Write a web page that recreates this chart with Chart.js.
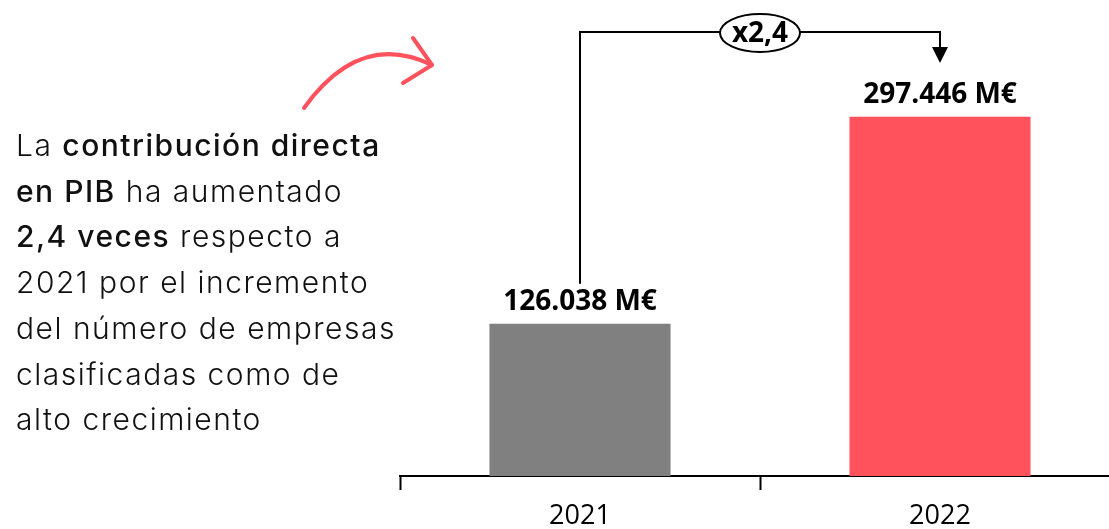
<!DOCTYPE html>
<html>
<head>
<meta charset="utf-8">
<script src="https://cdn.jsdelivr.net/npm/chart.js@4.4.1/dist/chart.umd.min.js"></script>
<style>
  html, body { margin: 0; padding: 0; background: #fff; overflow: hidden; }
  #wrap { position: absolute; left: 0; top: 0; width: 1120px; height: 529px; }
  #note {
    position: absolute; left: 16px; top: 123px; white-space: nowrap;
    font-family: Inter, "Noto Sans", sans-serif; font-weight: 300;
    font-size: 30px; line-height: 45.7px; color: #111; letter-spacing: 1.5px;
  }
  #note b { font-weight: 500; }
</style>
</head>
<body>
<div id="wrap">
  <canvas id="myChart" width="1120" height="529"></canvas>
  <div id="note">La <b>contribución directa</b><br><b>en PIB</b> ha aumentado<br><b>2,4 veces</b> respecto a<br>2021 por el incremento<br>del número de empresas<br>clasificadas como de<br>alto crecimiento</div>
</div>
<script>
const years = ["2021", "2022"];
const pibValues = [126038, 297446];
const barColors = ["#808080", "#FF525D"];
const ratioLabel = "x2,4";

const fmt = (v) => String(v).replace(/\B(?=(\d{3})+(?!\d))/g, ".") + " M€";

const annotations = {
  id: "annotations",
  afterDatasetsDraw(chart) {
    const ctx = chart.ctx;
    const meta = chart.getDatasetMeta(0);
    ctx.save();
    // etiquetas de valor
    ctx.fillStyle = "#000";
    ctx.font = "bold 28px 'Open Sans', 'DejaVu Sans', sans-serif";
    ctx.textAlign = "center";
    ctx.textBaseline = "middle";
    meta.data.forEach((bar, i) => {
      ctx.fillText(fmt(pibValues[i]), bar.x, bar.y - 22);
    });

    // corchete x2,4
    const x1 = meta.data[0].x, x2 = meta.data[1].x;
    const topY = 32;
    ctx.strokeStyle = "#000";
    ctx.lineWidth = 2;
    ctx.beginPath();
    ctx.moveTo(x1, meta.data[0].y - 40);
    ctx.lineTo(x1, topY);
    ctx.lineTo(x2, topY);
    ctx.lineTo(x2, 49);
    ctx.stroke();
    ctx.fillStyle = "#000";
    ctx.beginPath();
    ctx.moveTo(x2 - 8, 47);
    ctx.lineTo(x2 + 8, 47);
    ctx.lineTo(x2, 63);
    ctx.closePath();
    ctx.fill();
    const cx = (x1 + x2) / 2;
    ctx.fillStyle = "#fff";
    ctx.beginPath();
    ctx.ellipse(cx, topY + 1, 40, 19, 0, 0, Math.PI * 2);
    ctx.fill();
    ctx.stroke();
    ctx.fillStyle = "#000";
    ctx.font = "bold 28px 'Open Sans', 'DejaVu Sans', sans-serif";
    ctx.fillText(ratioLabel, cx, topY + 2);

    // flecha roja curva
    ctx.strokeStyle = "#FF525D";
    ctx.lineWidth = 4;
    ctx.lineCap = "round";
    ctx.lineJoin = "round";
    ctx.beginPath();
    ctx.moveTo(304, 108);
    ctx.quadraticCurveTo(360, 30, 432, 65);
    ctx.stroke();
    ctx.beginPath();
    ctx.moveTo(413, 38);
    ctx.lineTo(432, 65);
    ctx.lineTo(403, 83);
    ctx.stroke();
    ctx.restore();
  }
};

new Chart(document.getElementById("myChart"), {
  type: "bar",
  data: {
    labels: years,
    datasets: [{
      data: pibValues,
      backgroundColor: barColors,
      borderWidth: 0,
      barPercentage: 0.503,
      categoryPercentage: 1,
    }],
  },
  options: {
    responsive: false,
    animation: false,
    layout: { padding: { left: 400, top: 0, right: 0, bottom: 0 } },
    plugins: {
      legend: { display: false },
      tooltip: { enabled: false },
    },
    scales: {
      x: {
        afterFit: (s) => { s.height = 53; },
        border: { display: true, color: "#000", width: 2 },
        grid: {
          offset: true,
          drawOnChartArea: false,
          drawTicks: true,
          tickLength: 14,
          tickWidth: 2,
          tickColor: "#000",
        },
        ticks: {
          color: "#000",
          padding: 10,
          font: { family: "'Open Sans', 'DejaVu Sans', sans-serif", size: 27 },
        },
      },
      y: {
        display: false,
        min: 0,
        max: 394000,
      },
    },
  },
  plugins: [annotations],
});
</script>
</body>
</html>
